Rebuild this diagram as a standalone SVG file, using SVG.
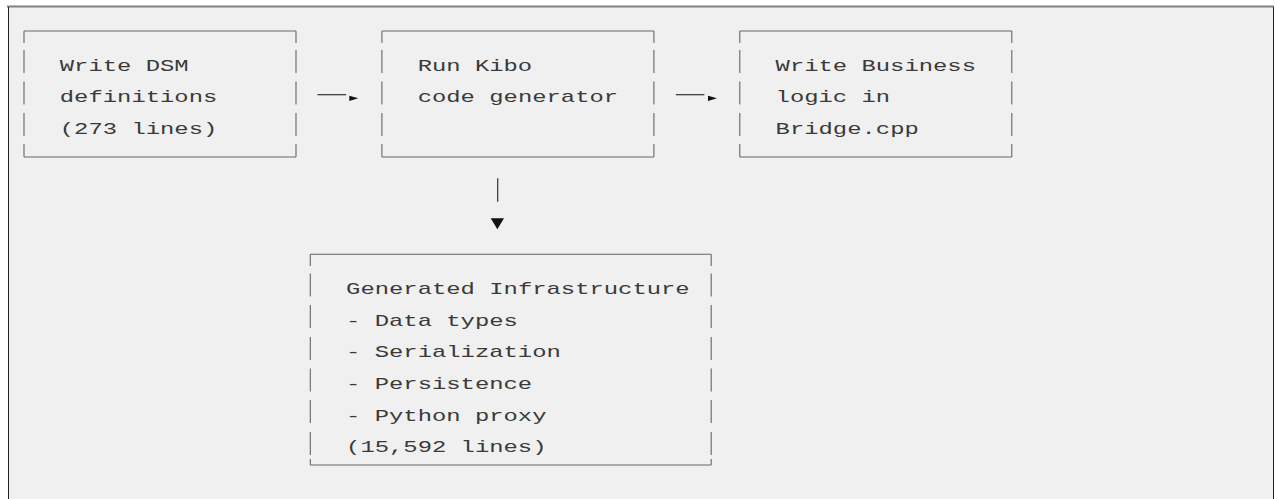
<svg xmlns="http://www.w3.org/2000/svg" width="1275" height="499" viewBox="0 0 1275 499">
<defs>
<style>
.t{font-family:"Liberation Mono","DejaVu Sans Mono",monospace;font-size:17px;fill:#3a3a3a;white-space:pre}
.b{stroke:#666;stroke-width:1.1;fill:none}
.c{stroke:#333;stroke-width:1.2;fill:none}
.h{fill:#111}
</style>
</defs>
<rect x="0" y="0" width="1275" height="499" fill="#fff"/>
<rect x="8" y="6" width="1265" height="493" fill="#f0f0f0"/>
<line x1="7" y1="6.5" x2="1274" y2="6.5" stroke="#808080" stroke-width="2"/>
<line x1="8.5" y1="7" x2="8.5" y2="499" stroke="#222" stroke-width="1"/>
<line x1="1273.5" y1="7" x2="1273.5" y2="499" stroke="#222" stroke-width="1"/>

<g id="node-dsm">
<path class="b" d="M24,31H296M24,157H296M24,31V43M296,31V43M24,50V73M296,50V73M24,81.5V104.5M296,81.5V104.5M24,113V136M296,113V136M24,144V157M296,144V157"/>
<text class="t" x="59.8" y="70.7" textLength="128.8" lengthAdjust="spacingAndGlyphs">Write DSM</text>
<text class="t" x="59.8" y="102.2" textLength="157.5" lengthAdjust="spacingAndGlyphs">definitions</text>
<text class="t" x="59.8" y="133.7" textLength="157.5" lengthAdjust="spacingAndGlyphs">(273 lines)</text>
</g>

<g id="node-kibo">
<path class="b" d="M381.9,31H653.9M381.9,157H653.9M381.9,31V43M653.9,31V43M381.9,50V73M653.9,50V73M381.9,81.5V104.5M653.9,81.5V104.5M381.9,113V136M653.9,113V136M381.9,144V157M653.9,144V157"/>
<text class="t" x="417.7" y="70.7" textLength="114.5" lengthAdjust="spacingAndGlyphs">Run Kibo</text>
<text class="t" x="417.7" y="102.2" textLength="200.4" lengthAdjust="spacingAndGlyphs">code generator</text>
</g>

<g id="node-bridge">
<path class="b" d="M739.8,31H1011.8M739.8,157H1011.8M739.8,31V43M1011.8,31V43M739.8,50V73M1011.8,50V73M739.8,81.5V104.5M1011.8,81.5V104.5M739.8,113V136M1011.8,113V136M739.8,144V157M1011.8,144V157"/>
<text class="t" x="775.6" y="70.7" textLength="200.4" lengthAdjust="spacingAndGlyphs">Write Business</text>
<text class="t" x="775.6" y="102.2" textLength="114.5" lengthAdjust="spacingAndGlyphs">logic in</text>
<text class="t" x="775.6" y="133.7" textLength="143.2" lengthAdjust="spacingAndGlyphs">Bridge.cpp</text>
</g>

<g id="node-generated">
<path class="b" d="M310.3,254.3H711.2M310.3,465H711.2M310.3,254.3V266M711.2,254.3V266M310.3,273.5V296.5M711.2,273.5V296.5M310.3,305V328M711.2,305V328M310.3,337V360M711.2,337V360M310.3,368.5V391.5M711.2,368.5V391.5M310.3,400V423M711.2,400V423M310.3,432V455M711.2,432V455M310.3,459V465M711.2,459V465"/>
<text class="t" x="346.1" y="294" textLength="343.6" lengthAdjust="spacingAndGlyphs">Generated Infrastructure</text>
<text class="t" x="346.1" y="325.7" textLength="171.8" lengthAdjust="spacingAndGlyphs">- Data types</text>
<text class="t" x="346.1" y="357.3" textLength="214.7" lengthAdjust="spacingAndGlyphs">- Serialization</text>
<text class="t" x="346.1" y="389" textLength="186.1" lengthAdjust="spacingAndGlyphs">- Persistence</text>
<text class="t" x="346.1" y="420.7" textLength="200.4" lengthAdjust="spacingAndGlyphs">- Python proxy</text>
<text class="t" x="346.1" y="452.3" textLength="200.4" lengthAdjust="spacingAndGlyphs">(15,592 lines)</text>
</g>

<g id="connectors">
<line class="c" x1="317.5" y1="94.7" x2="346.1" y2="94.7"/>
<polygon class="h" points="349.3,95.7 358.3,98.3 349.3,101"/>
<line class="c" x1="675.8" y1="94.7" x2="704.4" y2="94.7"/>
<polygon class="h" points="708,95.7 717,98.3 708,101"/>
<line class="c" x1="497.7" y1="178.3" x2="497.7" y2="201.7"/>
<polygon class="h" points="490.7,218.3 504,218.3 497.35,229.3"/>
</g>
</svg>
